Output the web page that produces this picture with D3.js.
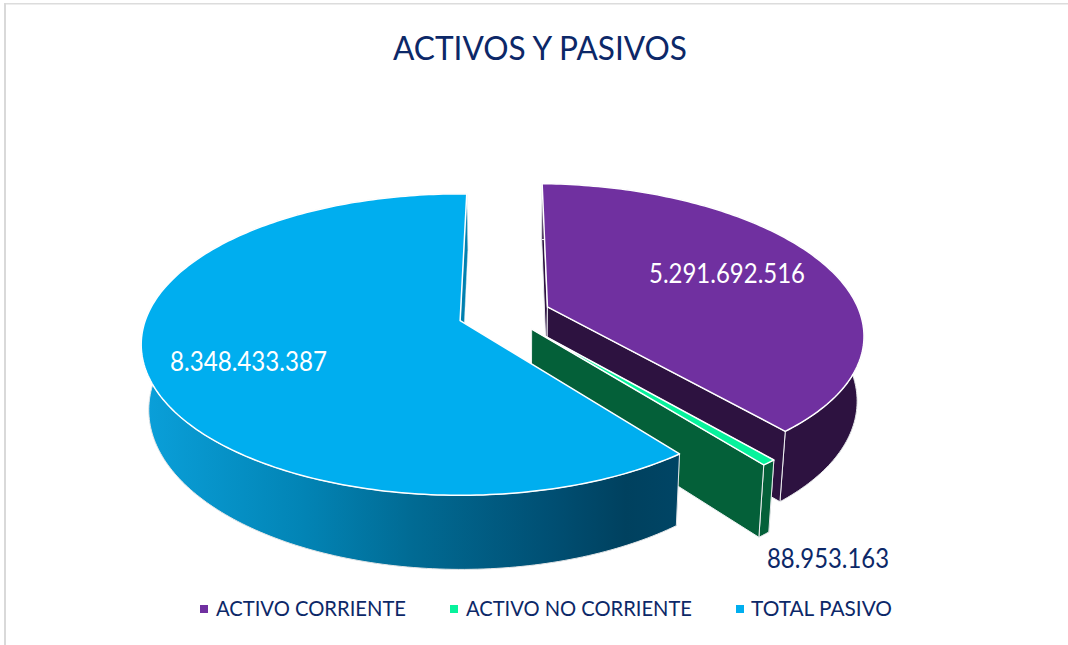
<!DOCTYPE html>
<html><head><meta charset="utf-8">
<script src="https://cdn.jsdelivr.net/npm/d3@7/dist/d3.min.js"></script>
<style>html,body{margin:0;padding:0;background:#fff}svg{display:block}text{font-family:Lato,"Open Sans",sans-serif}</style>
</head><body><svg id="c" width="1068" height="645"></svg>
<script>
const categories = ["ACTIVO CORRIENTE", "ACTIVO NO CORRIENTE", "TOTAL PASIVO"];
const values = [5291692516, 88953163, 8348433387];
const valueLabels = ["5.291.692.516", "88.953.163", "8.348.433.387"];
const explodes = [0.147, 0.132, 0.15];
const topColors = ["#7030a0", "#07f29c", "#00aeef"];
const sideColors = ["#2d1240", "#046039", "#0080b0"];
const title = "ACTIVOS Y PASIVOS";

const svg = d3.select("#c");
const rad = Math.PI / 180;

// pie layout, rotated slightly clockwise
const arcs = d3.pie().sort(null).startAngle(1.4 * rad).endAngle(361.4 * rad)(values);

// projection of a unit disc: perspective on the tilted plane
const persp = 0.159, shrink = 0.98, vanishX = 520, depth = 64;
const origin = [0.143, -0.049];
const sx = d3.scaleLinear().domain([-1, 1]).range([460 - 315, 460 + 315]);
const sy = d3.scaleLinear().domain([-1, 1]).range([321 - 147, 321 + 147]);
function project(u, v, bottom) {
  const s = 1 / (1 - persp * v);
  const x = sx(u * s), y = sy(v * s);
  if (!bottom) return [x, y];
  return [vanishX + (x - vanishX) * shrink, y + depth * Math.pow(s, 0.85)];
}
const line = d3.line();
const polar = (c, a, r = 1) => [c[0] + r * Math.sin(a), c[1] - r * Math.cos(a)];

const defs = svg.append("defs");
const grad = defs.append("linearGradient").attr("id", "wall")
  .attr("gradientUnits", "userSpaceOnUse").attr("x1", 142).attr("x2", 680).attr("y1", 0).attr("y2", 0);
[[0, "#0aa0da"], [0.3, "#0284b5"], [0.5, "#016b94"], [0.76, "#004f73"], [0.9, "#00415f"], [1, "#004565"]]
  .forEach(d => grad.append("stop").attr("offset", d[0]).attr("stop-color", d[1]));

// frame
svg.append("rect").attr("x", 4).attr("y", 3).attr("width", 1064).attr("height", 1.5).attr("fill", "#dcdcdc");
svg.append("rect").attr("x", 4).attr("y", 3).attr("width", 2).attr("height", 642).attr("fill", "#d9d9d9");

// slices, back to front
arcs.forEach((d, i) => {
  const mid = (d.startAngle + d.endAngle) / 2;
  const c = polar(origin, mid, explodes[i]);
  const n = Math.max(2, Math.ceil((d.endAngle - d.startAngle) / rad));
  const angles = d3.range(n + 1).map(k => d.startAngle + (d.endAngle - d.startAngle) * k / n);
  const rim = angles.map(a => polar(c, a));
  const topRim = rim.map(p => project(p[0], p[1], false));
  const botRim = rim.map(p => project(p[0], p[1], true));
  const ct = project(c[0], c[1], false), cb = project(c[0], c[1], true);
  const g = svg.append("g");
  const side = (a, b) => g.append("path")
    .attr("d", line([ct, a, b, cb]) + "Z")
    .attr("fill", sideColors[i]).attr("stroke", "#eef0f2").attr("stroke-width", i === 2 ? 0.4 : 1).attr("stroke-linejoin", "round");
  side(topRim[0], botRim[0]);
  g.append("path").attr("d", line(topRim.concat(botRim.slice().reverse())) + "Z")
    .attr("fill", i === 2 ? "url(#wall)" : sideColors[i])
    .attr("stroke", "#e4e6e8").attr("stroke-width", 1).attr("stroke-linejoin", "round");
  side(topRim[n], botRim[n]);
  g.append("path").attr("d", line([ct].concat(topRim)) + "Z")
    .attr("fill", topColors[i]).attr("stroke", "#fff").attr("stroke-width", 1.5).attr("stroke-linejoin", "round");
});

// title
const navy = "#0c2868";
svg.append("text").text(title).attr("x", 393).attr("y", 60).attr("font-size", 33)
  .attr("fill", navy).attr("textLength", 294).attr("lengthAdjust", "spacingAndGlyphs");

// data labels
const labelPos = [[649, 283, 156, "#fff"], [767, 568, 122, navy], [170, 371, 157, "#fff"]];
valueLabels.forEach((t, i) => {
  svg.append("text").text(t).attr("x", labelPos[i][0]).attr("y", labelPos[i][1]).attr("font-size", 27)
    .attr("fill", labelPos[i][3]).attr("textLength", labelPos[i][2]).attr("lengthAdjust", "spacingAndGlyphs");
});

// legend
const legendPos = [[200, 216, 190], [450, 466, 226], [736, 751, 141]];
categories.forEach((t, i) => {
  svg.append("rect").attr("x", legendPos[i][0]).attr("y", 605).attr("width", 8).attr("height", 8).attr("fill", topColors[i]);
  svg.append("text").text(t).attr("x", legendPos[i][1]).attr("y", 615.5).attr("font-size", 21)
    .attr("fill", navy).attr("textLength", legendPos[i][2]).attr("lengthAdjust", "spacingAndGlyphs");
});
</script></body></html>
